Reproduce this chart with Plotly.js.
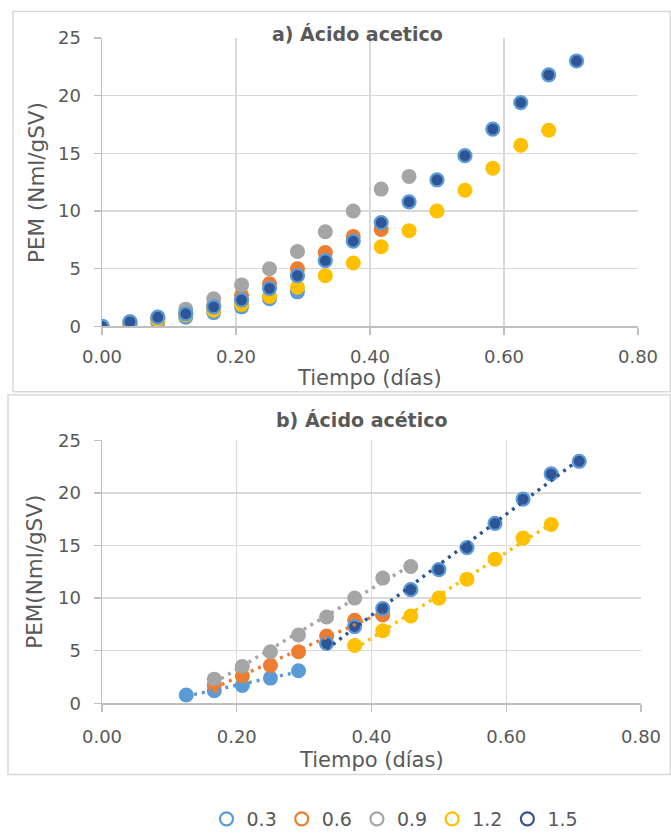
<!DOCTYPE html>
<html>
<head>
<meta charset="utf-8">
<script src="https://cdn.plot.ly/plotly-3.0.1.min.js"></script>
<style>html,body{margin:0;padding:0;background:#fff;}#chart{width:671px;height:838px;}</style>
</head>
<body>
<div id="chart"></div>
<script>
// Time in days (hourly samples)
const tiempo = [0, 0.0417, 0.0833, 0.125, 0.1667, 0.2083, 0.25, 0.2917, 0.3333, 0.375,
                0.4167, 0.4583, 0.5, 0.5417, 0.5833, 0.625, 0.6667, 0.7083];
const seriesNames = ["0.3", "0.6", "0.9", "1.2", "1.5"];

// Chart a) values (start at tiempo index 0)
const a03 = [0, 0.2, 0.4, 0.8, 1.2, 1.7, 2.4, 3.0];
const a06 = [0, 0.3, 0.6, 1.1, 1.8, 2.7, 3.7, 5.0, 6.4, 7.8, 8.4];
const a09 = [0, 0.4, 0.8, 1.5, 2.4, 3.6, 5.0, 6.5, 8.2, 10.0, 11.9, 13.0];
const a12 = [0, 0.3, 0.6, 1.0, 1.4, 1.9, 2.6, 3.4, 4.4, 5.5, 6.9, 8.3, 10.0, 11.8, 13.7, 15.7, 17.0];
const a15 = [0, 0.4, 0.8, 1.1, 1.7, 2.3, 3.3, 4.4, 5.7, 7.4, 9.0, 10.8, 12.7, 14.8, 17.1, 19.4, 21.8, 23.0];

// Chart b) values and their starting index in tiempo
const b03 = [0.8, 1.2, 1.7, 2.4, 3.1];                 const b03start = 3;
const b06 = [1.7, 2.6, 3.6, 4.9, 6.4, 7.9, 8.4];        const b06start = 4;
const b09 = [2.3, 3.5, 4.9, 6.5, 8.2, 10.0, 11.9, 13.0]; const b09start = 4;
const b12 = [5.5, 6.9, 8.3, 10.0, 11.8, 13.7, 15.7, 17.0]; const b12start = 9;
const b15 = [5.7, 7.3, 9.0, 10.8, 12.7, 14.8, 17.1, 19.4, 21.8, 23.0]; const b15start = 8;

const xTicks = [0, 0.2, 0.4, 0.6, 0.8];
const xTickText = ["0.00", "0.20", "0.40", "0.60", "0.80"];
const yTicks = [0, 5, 10, 15, 20, 25];

const colors = ["#5B9BD5", "#ED7D31", "#A5A5A5", "#FFC000", "#2F5597"];
const ringColor = "#5B9BD5";
const txt = "#595959";
const grid = "#D9D9D9";
const FONT = "DejaVu Sans";

function markerTrace(xs, ys, i, xa, ya, size) {
  const dark = i === 4;
  return {
    x: xs, y: ys, xaxis: xa, yaxis: ya, type: "scatter", mode: "markers",
    showlegend: false, hoverinfo: "skip",
    marker: { symbol: "circle", size: dark ? size - 2 : size, color: colors[i],
              line: { width: dark ? 2.2 : 0, color: ringColor } }
  };
}
function trendTrace(xs, ys, i) {
  const n = xs.length;
  let sx = 0, sy = 0, sxx = 0, sxy = 0;
  for (let k = 0; k < n; k++) { sx += xs[k]; sy += ys[k]; sxx += xs[k]*xs[k]; sxy += xs[k]*ys[k]; }
  const m = (n*sxy - sx*sy) / (n*sxx - sx*sx);
  const b = (sy - m*sx) / n;
  const x0 = xs[0], x1 = xs[n-1];
  return {
    x: [x0, x1], y: [m*x0 + b, m*x1 + b], xaxis: "x2", yaxis: "y2",
    type: "scatter", mode: "lines", showlegend: false, hoverinfo: "skip",
    line: { color: colors[i], width: 3.4, dash: "3px,5px" }
  };
}

const aData = [a03, a06, a09, a12, a15];
const bData = [b03, b06, b09, b12, b15];
const bStart = [b03start, b06start, b09start, b12start, b15start];

const traces = [];
aData.forEach((ys, i) => traces.push(markerTrace(tiempo.slice(0, ys.length), ys, i, "x", "y", 15)));
bData.forEach((ys, i) => traces.push(markerTrace(tiempo.slice(bStart[i], bStart[i] + ys.length), ys, i, "x2", "y2", 15)));
bData.forEach((ys, i) => traces.push(trendTrace(tiempo.slice(bStart[i], bStart[i] + ys.length), ys, i)));
// legend entries
seriesNames.forEach((nm, i) => traces.push({
  x: [null], y: [null], xaxis: "x2", yaxis: "y2", type: "scatter", mode: "markers", name: nm,
  marker: { symbol: "circle-open", size: 13, color: colors[i], line: { width: 2.2, color: colors[i] } }
}));

const W = 671, H = 838;
const px = v => v / W, py = v => 1 - v / H;

function xAxis(domain, anchor, standoff) {
  return {
    domain: domain, anchor: anchor, range: [0, 0.8], tickvals: xTicks, ticktext: xTickText,
    showgrid: true, gridcolor: grid, gridwidth: 1.4, zeroline: false,
    showline: true, linecolor: "#BFBFBF", linewidth: 1.4,
    ticks: "outside", ticklen: 7, tickcolor: "#BFBFBF", tickwidth: 1.4,
    ticklabelstandoff: standoff,
    tickfont: { family: FONT, size: 18, color: txt }, fixedrange: true
  };
}
function yAxis(domain, anchor) {
  return {
    domain: domain, anchor: anchor, range: [0, 25], tickvals: yTicks,
    showgrid: true, gridcolor: grid, gridwidth: 1.4, zeroline: false,
    showline: true, linecolor: "#BFBFBF", linewidth: 1.4,
    ticks: "outside", ticklen: 7, tickcolor: "#BFBFBF", tickwidth: 1.4,
    ticklabelstandoff: 9,
    tickfont: { family: FONT, size: 18, color: txt }, fixedrange: true
  };
}

const layout = {
  width: W, height: H, margin: { l: 0, r: 0, t: 0, b: 0 },
  paper_bgcolor: "#fff", plot_bgcolor: "#fff",
  xaxis: xAxis([px(102), px(638)], "y", 7),
  yaxis: yAxis([py(330), py(38.3)], "x"),
  xaxis2: xAxis([px(102), px(641)], "y2", 10),
  yaxis2: yAxis([py(711), py(445)], "x2"),
  showlegend: true,
  legend: {
    orientation: "h", x: px(395), xanchor: "center", y: py(828), yanchor: "middle",
    font: { family: FONT, size: 19, color: txt }, itemwidth: 30, traceorder: "normal",
    bgcolor: "rgba(0,0,0,0)"
  },
  shapes: [
    { type: "rect", xref: "paper", yref: "paper", x0: px(13), x1: px(670.3), y0: py(396), y1: py(11.7),
      line: { color: "#D9D9D9", width: 1.5 }, fillcolor: "rgba(0,0,0,0)", layer: "below" },
    { type: "rect", xref: "paper", yref: "paper", x0: px(8), x1: px(670.3), y0: py(783), y1: py(399),
      line: { color: "#D9D9D9", width: 1.5 }, fillcolor: "rgba(0,0,0,0)", layer: "below" }
  ],
  annotations: [
    { text: "<b>a) Ácido acetico</b>", xref: "paper", yref: "paper", x: px(357), y: py(34),
      xanchor: "center", yanchor: "middle", showarrow: false,
      font: { family: FONT, size: 19, color: txt } },
    { text: "<b>b) Ácido acético</b>", xref: "paper", yref: "paper", x: px(362), y: py(425),
      xanchor: "center", yanchor: "middle", showarrow: false,
      font: { family: FONT, size: 19, color: txt } },
    { text: "Tiempo (días)", xref: "paper", yref: "paper", x: px(370), y: py(382),
      xanchor: "center", yanchor: "middle", showarrow: false,
      font: { family: FONT, size: 21, color: txt } },
    { text: "Tiempo (días)", xref: "paper", yref: "paper", x: px(371), y: py(768),
      xanchor: "center", yanchor: "middle", showarrow: false,
      font: { family: FONT, size: 21, color: txt } },
    { text: "PEM (Nml/gSV)", xref: "paper", yref: "paper", x: px(36), y: py(185), textangle: -90,
      xanchor: "center", yanchor: "middle", showarrow: false,
      font: { family: FONT, size: 21.5, color: txt } },
    { text: "PEM(Nml/gSV)", xref: "paper", yref: "paper", x: px(35), y: py(578), textangle: -90,
      xanchor: "center", yanchor: "middle", showarrow: false,
      font: { family: FONT, size: 21.5, color: txt } }
  ]
};

Plotly.newPlot("chart", traces, layout, { staticPlot: true, displayModeBar: false });
</script>
</body>
</html>
